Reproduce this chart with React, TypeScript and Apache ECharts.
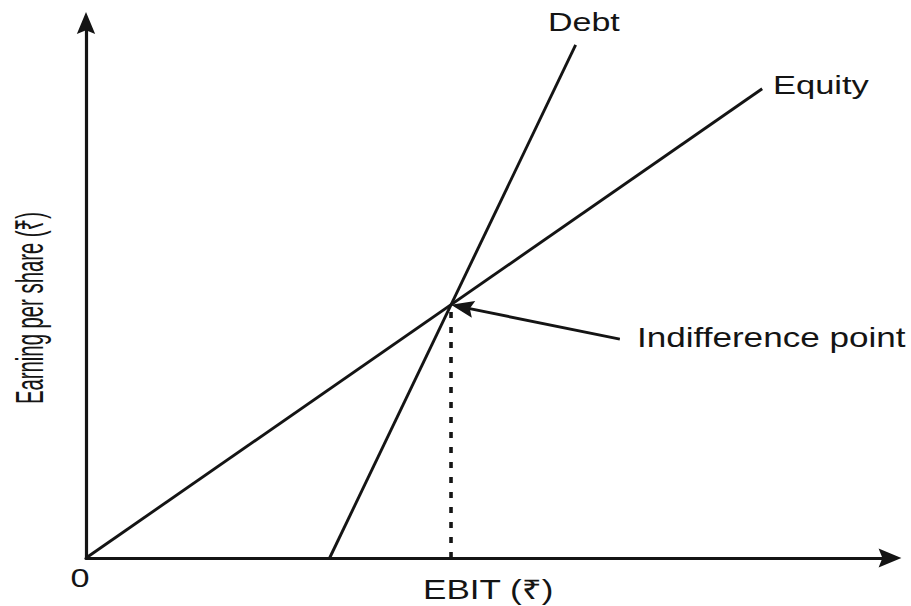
import React, { useEffect, useRef } from "react";
import * as echarts from "echarts";

// Axis ranges (abstract units, no ticks shown)
const xRange = [0, 10];
const yRange = [0, 10];

// Lines (EBIT, EPS)
const equityLine = [
  [0, 0],
  [8.41, 8.77],
];
const debtLine = [
  [3.03, 0],
  [6.09, 9.59],
];
const indifferenceDrop = [
  [4.54, 0],
  [4.54, 4.73],
];
const indifferenceArrow = [
  [6.64, 4.09],
  [4.68, 4.69],
];

const labels = {
  debt: "Debt",
  equity: "Equity",
  point: "Indifference point",
  xName: "EBIT (₹)",
  yName: "Earning per share (₹)",
  origin: "0",
};

const FONT = "'Liberation Sans', Arial, 'Noto Sans', 'DejaVu Sans', sans-serif";
const INK = "#141414";
const ARROW = "path://M0,0L10,24L0,20L-10,24Z";

export default function App() {
  const ref = useRef<HTMLDivElement>(null);
  useEffect(() => {
    if (!ref.current) return;
    const chart = echarts.init(ref.current, undefined, { renderer: "svg" });
    const axisCommon = {
      type: "value" as const,
      axisTick: { show: false },
      axisLabel: { show: false },
      splitLine: { show: false },
    };
    const txt = (
      text: string,
      x: number,
      y: number,
      size: number,
      sx: number,
      align = "left",
      extra: any = {}
    ) => ({
      type: "text",
      x,
      y,
      scaleX: sx,
      ...extra,
      style: {
        text,
        fill: INK,
        font: `${size}px ${FONT}`,
        textAlign: align,
        textVerticalAlign: "middle",
      },
    });
    chart.setOption({
      animation: false,
      backgroundColor: "#ffffff",
      grid: { left: 86, right: 21, top: 23, bottom: 48, containLabel: false },
      xAxis: {
        ...axisCommon,
        min: xRange[0],
        max: xRange[1],
        axisLine: {
          show: true,
          onZero: false,
          symbol: ["none", ARROW],
          symbolSize: [19, 26],
          lineStyle: { color: INK, width: 3.2 },
        },
      },
      yAxis: {
        ...axisCommon,
        min: yRange[0],
        max: yRange[1],
        axisLine: {
          show: true,
          onZero: false,
          symbol: ["none", ARROW],
          symbolSize: [19, 22],
          lineStyle: { color: INK, width: 3.2 },
        },
      },
      series: [
        {
          name: labels.equity,
          type: "line",
          data: equityLine,
          showSymbol: false,
          lineStyle: { color: INK, width: 2.9 },
        },
        {
          name: labels.debt,
          type: "line",
          data: debtLine,
          showSymbol: false,
          lineStyle: { color: INK, width: 2.9 },
        },
        {
          name: "drop",
          type: "line",
          data: indifferenceDrop,
          showSymbol: false,
          lineStyle: { color: INK, width: 3.6, type: [6, 9] },
          markLine: {
            silent: true,
            symbol: ["none", ARROW],
            symbolSize: [17, 23],
            label: { show: false },
            lineStyle: { color: INK, width: 2.9, type: "solid" },
            data: [
              [
                { coord: indifferenceArrow[0] },
                { coord: indifferenceArrow[1] },
              ],
            ],
          },
        },
      ],
      graphic: [
        txt(labels.debt, 548, 22, 25, 1.36),
        txt(labels.equity, 773, 85, 25, 1.38),
        txt(labels.point, 637, 338, 27, 1.3),
        txt(labels.xName, 423, 590, 27, 1.3),
        txt(labels.origin, 80, 578, 25, 1.37, "center"),
        txt(labels.yName, 30, 308, 26, 0.78, "center", {
          rotation: Math.PI / 2,
          scaleY: 1.5,
        }),
      ],
    });
    return () => chart.dispose();
  }, []);
  return (
    <div
      ref={ref}
      style={{ position: "fixed", left: 0, top: 0, width: 911, height: 606 }}
    />
  );
}
